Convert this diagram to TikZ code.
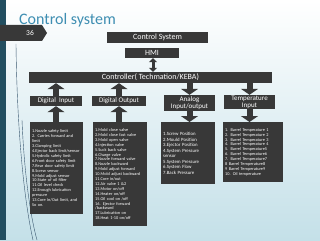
\documentclass[tikz,border=0pt]{standalone}
\usepackage{fontspec}
\setmainfont{Carlito}
\usetikzlibrary{arrows.meta,positioning,calc}
\definecolor{boxGray}{RGB}{56, 56, 56}
\definecolor{titleTeal}{RGB}{62, 142, 178}
\definecolor{barTeal}{RGB}{34, 78, 96}
\definecolor{bgBlue}{RGB}{196, 224, 232}
\definecolor{curveInk}{RGB}{58, 88, 112}

\tikzset{
    darkbox/.style={fill=boxGray, text=white, inner sep=0pt, align=center},
    headbox/.style={darkbox, font=\fontsize{8pt}{9pt}\selectfont},
    rowbox/.style={darkbox, font=\fontsize{7pt}{6.8pt}\selectfont},
    listbox/.style={fill=boxGray, text=white, inner xsep=2pt, inner ysep=0pt, align=left, anchor=north west, font=\fontsize{4.3pt}{4.9pt}\selectfont},
    bigarrow/.style={draw=boxGray, line width=6pt, -{Triangle[width=17pt,length=6pt]}},
    twinarrow/.style={draw=boxGray, line width=3pt, {Triangle[width=8pt,length=4pt]}-{Triangle[width=8pt,length=4pt]}}
}

\begin{document}
\begin{tikzpicture}[x=1pt, y=-1pt]
    \useasboundingbox (0,0) rectangle (320,240);
    % slide background
    \fill[top color=white, bottom color=bgBlue] (0,0) rectangle (320,240);
    \fill[barTeal] (0,0) rectangle (6,240);
    \draw[curveInk, line width=0.4pt] (16,44) .. controls (17,130) and (24,200) .. (33,240);
    \draw[curveInk, line width=0.4pt] (22,120) .. controls (24,170) and (30,215) .. (37,240);

    % title and page tab
    \node[anchor=base west, inner sep=0pt, text=titleTeal, font=\fontsize{16pt}{18pt}\selectfont] (title) at (19,25) {Control system};
    \fill[boxGray] (0,25) -- (42,25) -- (47,33) -- (42,41) -- (0,41) -- cycle;
    \node[text=white, font=\fontsize{7.5pt}{8.5pt}\selectfont] (pagenum) at (30,33) {36};

    % top chain
    \node[headbox, minimum width=101pt, minimum height=11pt] (ctrlsys) at (157.5,37.5) {Control System};
    \node[headbox, minimum width=54pt, minimum height=10pt] (hmi) at (152,53) {HMI};
    \node[headbox, minimum width=243pt, minimum height=11pt] (ctrl) at (150.5,77.5) {Controller( Techmation/KEBA)};
    \draw[twinarrow] (hmi.south -| 153,0) -- (ctrl.north -| 153,0);

    % signal groups
    \node[rowbox, minimum width=52pt, minimum height=10pt] (din) at (56,101) {Digital\ \ Input};
    \node[rowbox, minimum width=54pt, minimum height=10pt] (dout) at (119,101) {Digital Output};
    \node[rowbox, minimum width=51pt, minimum height=16pt] (anio) at (189.5,103) {Analog\\Input/output};
    \node[rowbox, minimum width=51pt, minimum height=14pt] (tempin) at (249.5,102) {Temperature\\Input};

    % lists
    \node[listbox, text width=49pt, minimum height=92pt] (dinlist) at (30,122) {1.Nozzle safety limit\\2. Carries forward and\\limit\\3.Clamping limit\\4.Ejector back limit/sensor\\5.Hydrolic safety limit\\6.Front door safety limit\\7.Rear door safety limit\\8.Screw sensor\\9.Mold adjust sensor\\10.State of oil filter\\11.Oil level check\\12.Enough lubrication\\pressure\\13.Core In/Out limit, and\\So on.};
    \node[listbox, text width=50pt, minimum height=104pt] (doutlist) at (93,122) {1.Mold close valve\\2.Mold close fast valve\\3.Mold open valve\\4.Injection valve\\5.Suck back valve\\6.Charge valve\\7.Nozzle forward valve\\8.Nozzle backward\\9.Mold adjust forward\\10.Mold adjust backward\\11.Core in/out\\12.Air valve 1 \&2\\13.Motor on/off\\14.Heater on/off\\15.Oil cool on /off\\16. Ejector forward\\/backward\\17.Lubrication on\\18.Heat 1-10 on/off};
    \node[listbox, text width=50pt, minimum height=62pt, font=\fontsize{4.8pt}{5.5pt}\selectfont] (aniolist) at (161,122) {1.Screw Position\\2.Mould Position\\3.Ejector Position\\4.System Pressure\\sensor\\5.System Pressure\\6.System Flow\\7.Back Pressure};
    \node[listbox, text width=56pt, minimum height=60pt] (templist) at (223,122) {1. Barrel Temperature 1\\2. Barrel Temperature 2\\3. Barrel Temperature 3\\4. Barrel Temperature 4\\5. Barrel Temperature5\\6. Barrel Temperature6\\7. Barrel Temperature7\\8 Barrel Temperature8\\9 Barrel Temperature9\\10. Oil temperature};

    % block arrows
    \draw[bigarrow] (din.north) -- (din.north |- ctrl.south);
    \draw[bigarrow] (dout.north) -- (dout.north |- ctrl.south);
    \draw[bigarrow] (anio.north |- ctrl.south) -- (anio.north);
    \draw[bigarrow] (tempin.north |- ctrl.south) -- (tempin.north);
    \draw[bigarrow] (din.south |- dinlist.north) -- (din.south);
    \draw[bigarrow] (dout.south |- doutlist.north) -- (dout.south);
    \draw[bigarrow] (anio.south) -- (anio.south |- aniolist.north);
    \draw[bigarrow] (tempin.south) -- (tempin.south |- templist.north);
\end{tikzpicture}
\end{document}
